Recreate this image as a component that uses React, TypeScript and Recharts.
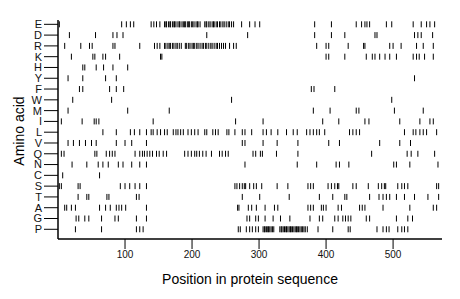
import React from "react";
import { ScatterChart, Scatter, XAxis, YAxis, Label } from "recharts";

// rows top to bottom
const aminoAcids = ["E", "D", "R", "K", "H", "Y", "F", "W", "M", "I", "L", "V", "Q", "N", "C", "S", "T", "A", "G", "P"];

const posE = [2, 95, 102, 108, 113, 139, 143, 147, 152, 159, 161, 162, 165, 167, 168, 171, 173, 174, 176, 179, 181, 182, 185, 187, 189, 190, 193, 195, 196, 199, 201, 203, 206, 208, 209, 212, 219, 221, 222, 225, 227, 230, 232, 233, 236, 238, 241, 243, 246, 248, 251, 254, 256, 259, 262, 274, 286, 294, 301, 383, 408, 445, 453, 458, 461, 465, 490, 498, 530, 542, 550, 555, 562];
const posD = [17, 56, 82, 88, 97, 222, 283, 383, 408, 428, 473, 476, 532, 537, 542, 559];
const posR = [10, 34, 47, 51, 82, 85, 122, 144, 148, 152, 159, 161, 164, 166, 168, 171, 173, 176, 178, 181, 184, 190, 192, 195, 197, 200, 202, 204, 207, 209, 212, 215, 217, 220, 222, 225, 228, 230, 233, 236, 238, 241, 244, 247, 250, 256, 262, 266, 386, 400, 404, 433, 456, 458, 495, 500, 512, 535, 545, 560];
const posK = [20, 52, 55, 67, 71, 92, 153, 155, 400, 404, 428, 460, 469, 473, 480, 488, 495, 505, 530, 535, 539, 547, 560];
const posH = [37, 40, 57, 68, 82, 104];
const posY = [15, 37, 71, 87, 532];
const posF = [32, 37, 77, 87, 98, 378, 382, 413];
const posW = [22, 80, 259, 498];
const posM = [15, 104, 166, 381, 406, 445, 449, 502, 545];
const posI = [5, 36, 54, 57, 61, 142, 265, 306, 395, 419, 458, 464, 510, 540, 555, 560];
const posL = [67, 87, 108, 114, 122, 132, 139, 142, 148, 153, 159, 163, 172, 176, 179, 183, 187, 194, 199, 204, 209, 219, 222, 231, 235, 239, 252, 255, 264, 275, 279, 289, 306, 311, 318, 328, 341, 351, 357, 371, 376, 381, 386, 390, 398, 435, 440, 445, 450, 517, 530, 534, 540, 545, 550, 565];
const posV = [15, 23, 32, 41, 50, 57, 87, 100, 110, 132, 275, 279, 306, 327, 358, 404, 420, 480, 510, 526];
const posQ = [5, 9, 55, 58, 72, 77, 81, 85, 115, 122, 126, 129, 133, 137, 141, 147, 151, 157, 162, 189, 194, 199, 204, 207, 211, 216, 221, 229, 241, 245, 250, 254, 291, 295, 302, 305, 326, 358, 468, 521, 527, 537, 562];
const posN = [21, 43, 60, 67, 75, 90, 97, 110, 122, 132, 279, 357, 386, 415, 420, 434, 501, 505, 525, 567];
const posC = [7, 62];
const posS = [2, 5, 30, 33, 93, 100, 107, 115, 122, 132, 264, 267, 271, 275, 278, 280, 286, 292, 296, 304, 327, 343, 373, 377, 381, 403, 408, 413, 417, 419, 440, 445, 463, 478, 483, 487, 489, 507, 513, 517, 522, 565, 568];
const posT = [30, 43, 46, 73, 76, 117, 121, 275, 301, 345, 390, 410, 428, 431, 465, 479, 485, 490, 495, 505, 517, 532, 552, 568];
const posA = [10, 13, 20, 26, 62, 71, 78, 87, 91, 95, 101, 132, 268, 270, 284, 289, 296, 309, 323, 328, 373, 377, 381, 393, 396, 400, 418, 423, 450, 454, 458, 485, 525, 560, 565];
const posG = [27, 31, 40, 46, 65, 85, 90, 117, 132, 282, 286, 295, 299, 309, 321, 332, 346, 376, 390, 395, 413, 418, 425, 429, 433, 437, 460, 465, 505, 522, 529];
const posP = [26, 65, 117, 122, 127, 269, 272, 281, 286, 290, 295, 299, 306, 308, 309, 311, 313, 314, 316, 318, 320, 322, 331, 333, 334, 336, 338, 340, 341, 343, 345, 347, 348, 350, 352, 354, 356, 357, 359, 361, 363, 365, 367, 369, 372, 388, 410, 433, 436, 476, 485, 490, 494, 507, 513, 517, 522];

const rowPositions = [posE, posD, posR, posK, posH, posY, posF, posW, posM, posI, posL, posV, posQ, posN, posC, posS, posT, posA, posG, posP];

const xTicks = [100, 200, 300, 400, 500];

const FONT = "'Liberation Sans', Arial, Helvetica, sans-serif";

// row index 0 = bottom (P), 19 = top (E)
const points = rowPositions.flatMap((list, i) =>
  list.map((pos) => ({ pos, row: aminoAcids.length - 1 - i }))
);
const yTicks = aminoAcids.map((_, i) => i);

const TickMark = (props: any) => {
  const { cx, cy } = props;
  if (cx == null || cy == null) return null;
  return <line x1={cx} x2={cx} y1={cy - 3} y2={cy + 3} stroke="#000" strokeWidth={1} />;
};

export default function App() {
  return (
    <div style={{ position: "absolute", left: 0, top: 0, background: "#fff" }}>
      <ScatterChart width={460} height={299} margin={{ top: 20, right: 18, bottom: 0, left: 0 }}>
        <XAxis
          type="number"
          dataKey="pos"
          domain={[0, 573]}
          ticks={xTicks}
          tickSize={10}
          axisLine={{ stroke: "#000", strokeWidth: 1.5 }}
          tickLine={{ stroke: "#000" }}
          tick={{ fontSize: 10, fill: "#111", fontFamily: FONT }}
          height={60}
          allowDataOverflow
        >
          <Label
            value="Position in protein sequence"
            position="insideBottom"
            offset={15}
            style={{ fontSize: 14, fill: "#000", fontFamily: FONT }}
          />
        </XAxis>
        <YAxis
          type="number"
          dataKey="row"
          domain={[-0.9, 19.4]}
          ticks={yTicks}
          interval={0}
          tickSize={14}
          width={58}
          axisLine={{ stroke: "#000", strokeWidth: 1.5 }}
          tickLine={{ stroke: "#000" }}
          tick={{ fontSize: 11, fill: "#111", fontFamily: FONT }}
          tickFormatter={(v: number) => aminoAcids[aminoAcids.length - 1 - v] ?? ""}
          allowDataOverflow
        >
          <Label
            content={() => (
              <text
                x={19}
                y={131}
                transform="rotate(-90 19 131)"
                textAnchor="middle"
                dominantBaseline="central"
                fontSize={14}
                fontFamily={FONT}
                fill="#000"
              >
                Amino acid
              </text>
            )}
          />
        </YAxis>
        <Scatter data={points} shape={<TickMark />} isAnimationActive={false} />
      </ScatterChart>
    </div>
  );
}
